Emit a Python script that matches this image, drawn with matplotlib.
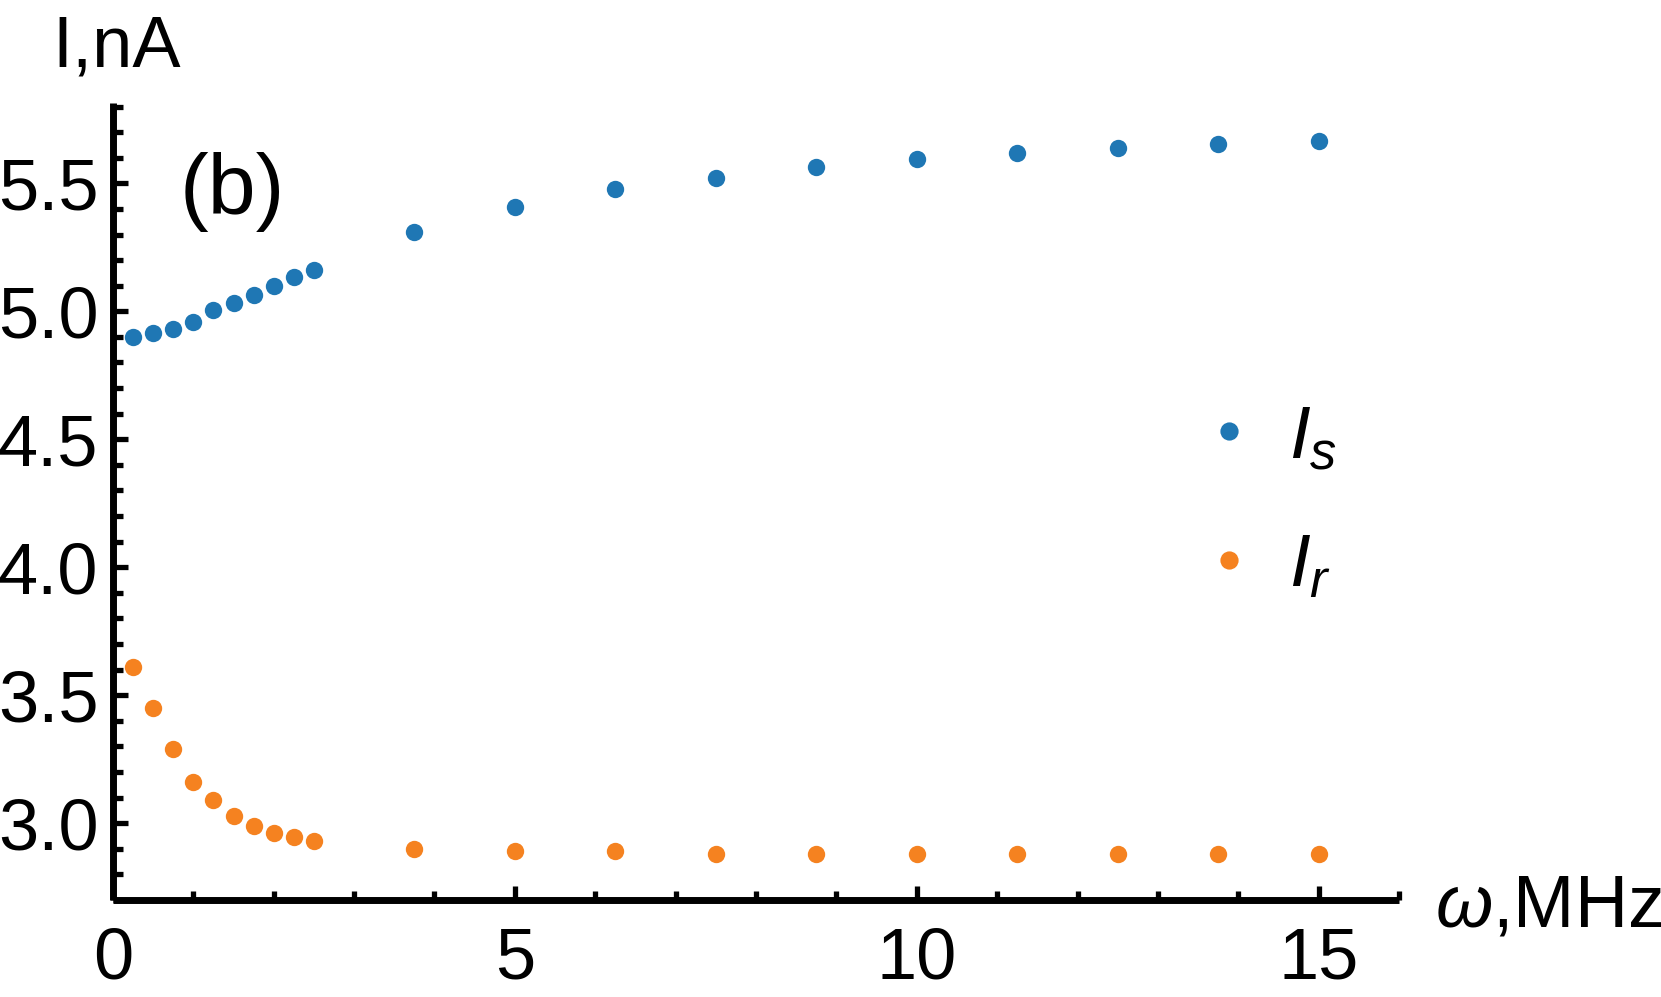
import matplotlib as mpl
import matplotlib.pyplot as plt
from matplotlib.ticker import MultipleLocator

mpl.rcParams['font.family'] = ['Liberation Sans', 'DejaVu Sans']
mpl.rcParams['mathtext.fontset'] = 'custom'
mpl.rcParams['mathtext.rm'] = 'Liberation Sans'
mpl.rcParams['mathtext.it'] = 'Liberation Sans:italic'

# omega, MHz
w = [0.25, 0.5, 0.75, 1.0, 1.25, 1.5, 1.75, 2.0, 2.25, 2.5,
     3.75, 5.0, 6.25, 7.5, 8.75, 10.0, 11.25, 12.5, 13.75, 15.0]
# I_s, nA
i_s = [4.90, 4.914, 4.93, 4.957, 5.004, 5.031, 5.063, 5.10, 5.133, 5.16,
       5.31, 5.406, 5.477, 5.52, 5.562, 5.594, 5.62, 5.637, 5.652, 5.665]
# I_r, nA
i_r = [3.609, 3.45, 3.29, 3.16, 3.09, 3.03, 2.99, 2.96, 2.947, 2.93,
       2.90, 2.89, 2.89, 2.88, 2.88, 2.88, 2.88, 2.88, 2.88, 2.88]

blue = '#1f77b4'
orange = '#f58220'

fig = plt.figure(figsize=(16.61, 9.97), dpi=100)
ax = fig.add_axes([0.068, 0.0973, 0.7743, 0.7997])

ax.plot(w, i_s, 'o', color=blue, ms=12.5, mew=0, label='$I_s$')
ax.plot(w, i_r, 'o', color=orange, ms=12.5, mew=0, label='$I_r$')

ax.set_xlim(0, 16)
ax.set_ylim(2.7, 5.815)

for s in ['top', 'right']:
    ax.spines[s].set_visible(False)
for s in ['left', 'bottom']:
    ax.spines[s].set_linewidth(5)
    ax.spines[s].set_capstyle('butt')

ax.xaxis.set_major_locator(MultipleLocator(5))
ax.xaxis.set_minor_locator(MultipleLocator(1))
ax.yaxis.set_major_locator(MultipleLocator(0.5))
ax.yaxis.set_minor_locator(MultipleLocator(0.1))
ax.yaxis.set_major_formatter(mpl.ticker.FormatStrFormatter('%.1f'))
ax.xaxis.set_major_formatter(mpl.ticker.FormatStrFormatter('%d'))

ax.tick_params(which='both', direction='in', width=3.8, labelsize=52)
ax.tick_params(axis='x', which='major', length=10, pad=19)
ax.tick_params(axis='x', which='minor', length=6.5)
ax.tick_params(axis='y', which='major', length=10.5, pad=10.5)
ax.tick_params(axis='y', which='minor', length=7)

fig.text(0.0313, 0.933, 'I,nA', fontsize=52, ha='left', va='baseline')
fig.text(0.864, 0.0712, r'$\omega$,MHz', fontsize=53, ha='left', va='baseline')
ax.text(0.83, 5.38, '(b)', fontsize=62, ha='left', va='baseline')

leg = ax.legend(loc='upper left', bbox_to_anchor=(0.677, 0.663),
                bbox_transform=fig.transFigure, frameon=False,
                fontsize=54, handletextpad=0.3, labelspacing=0.8,
                handlelength=1.0, markerscale=1.05)

fig.savefig('out.png', dpi=100)
